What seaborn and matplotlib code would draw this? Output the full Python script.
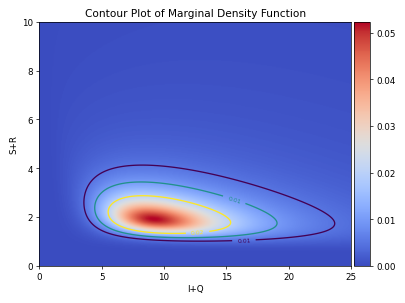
import numpy as np
import matplotlib
matplotlib.use("Agg")
import matplotlib.pyplot as plt
import seaborn as sns
from mpl_toolkits.axes_grid1 import make_axes_locatable

# ---- data ----
x_range = [0, 25]          # I+Q
y_range = [0, 10]          # S+R
contour_levels = [0.005, 0.01, 0.02]
label_text = ["0.01", "0.01", "0.02"]
colorbar_ticks = [0.00, 0.01, 0.02, 0.03, 0.04, 0.05]
peak_density = 0.0523      # colour-bar maximum
peak_iq = 9.2              # location of the density peak
peak_sr = 1.92
# shape parameters of the density surface (log scale, heavy tailed)
sd_log_iq = 0.44
shift_sr = 0.5
sd_log_sr = 0.435
ridge_slope = -0.28
ridge_curve = 0.14
spread_growth = 0.22
tail_df = 2.6

# ---- grid ----
xs = np.linspace(x_range[0], x_range[1], 300)
ys = np.linspace(y_range[0], y_range[1], 300)
X, Y = np.meshgrid(xs, ys)
with np.errstate(divide="ignore", invalid="ignore"):
    U = np.log(np.where(X > 0, X, np.nan))
    W = np.log(np.where(Y > shift_sr, Y - shift_sr, np.nan))
    d = U - np.log(peak_iq)
    ridge = np.log(peak_sr - shift_sr) + ridge_slope * d + ridge_curve * d**2
    sw = sd_log_sr * np.exp(spread_growth * d)
    zu = d / sd_log_iq
    zw = (W - ridge) / sw
    q = zu**2 + zw**2
    Z = (1 + q / tail_df) ** (-(tail_df + 2) / 2)
Z = np.nan_to_num(Z, nan=0.0)
Z = Z / Z.max() * peak_density

sns.set_style("ticks")
plt.rcParams.update({"font.family": ["DejaVu Sans"], "text.color": "black",
                     "axes.labelcolor": "black", "xtick.color": "black",
                     "ytick.color": "black", "axes.edgecolor": "black"})

fig, ax = plt.subplots(figsize=(6.4, 4.8), dpi=63.3)
im = ax.imshow(Z, origin="lower", extent=[x_range[0], x_range[1], y_range[0], y_range[1]],
               aspect="auto", cmap="coolwarm", vmin=0, vmax=peak_density)
line_colors = plt.get_cmap("viridis")(np.linspace(0, 1, len(contour_levels)))
label_pos = [(16.4, 1.05), (15.5, 2.5), (12.7, 1.28)]
for lev, txt, pos, col in zip(contour_levels, label_text, label_pos, line_colors):
    cs = ax.contour(X, Y, Z, levels=[lev], colors=[col], linewidths=1.5)
    ax.clabel(cs, inline=True, fontsize=7, fmt={lev: txt}, manual=[pos])
ax.set_title("Contour Plot of Marginal Density Function")
ax.set_xlabel("I+Q")
ax.set_ylabel("S+R")

divider = make_axes_locatable(ax)
cax = divider.append_axes("right", size="5%", pad=0.05)
cb = fig.colorbar(im, cax=cax)
cb.set_ticks(colorbar_ticks)

fig.tight_layout()
fig.savefig("out.png", dpi=63.3)
